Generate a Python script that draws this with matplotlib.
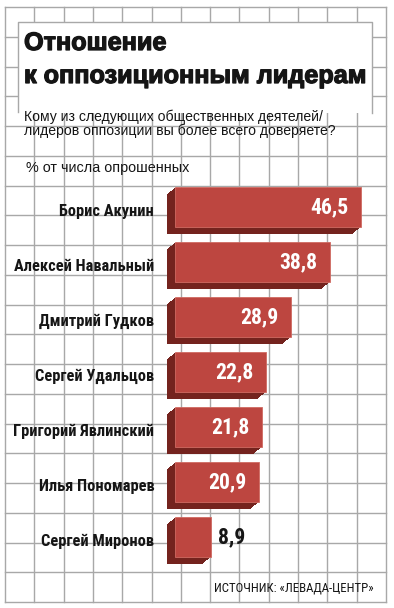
import matplotlib as mpl
mpl.use('Agg')
from matplotlib import pyplot as plt
from matplotlib import font_manager
from matplotlib.font_manager import FontProperties
from matplotlib.transforms import ScaledTranslation
from matplotlib.patches import Rectangle
import matplotlib.patheffects as pe
import numpy as np

names = ['Борис Акунин', 'Алексей Навальный', 'Дмитрий Гудков', 'Сергей Удальцов',
         'Григорий Явлинский', 'Илья Пономарев', 'Сергей Миронов']
values = [46.5, 38.8, 28.9, 22.8, 21.8, 20.9, 8.9]
value_labels = ['46,5', '38,8', '28,9', '22,8', '21,8', '20,9', '8,9']

title_lines = ['Отношение', 'к оппозиционным лидерам']
question_lines = ['Кому из следующих общественных деятелей/',
                  'лидеров оппозиции вы более всего доверяете?']
unit_note = '% от числа опрошенных'
source = 'ИСТОЧНИК: «ЛЕВАДА-ЦЕНТР»'

plt.rcParams['font.family'] = ['Liberation Sans', 'DejaVu Sans']


# look for a condensed face (the original uses narrow type); fall back to Liberation
def wnum(w):
    return w if isinstance(w, int) else font_manager.weight_dict.get(w, 400)


def find_narrow(bold):
    prefs = ['Noto Sans', 'Roboto', 'DejaVu Sans', 'Open Sans', 'Liberation Sans']
    best = None
    for f in font_manager.fontManager.ttflist:
        fn = f.fname.lower()
        if 'cjk' in fn or 'mono' in fn or 'serif' in fn or 'italic' in fn or f.style != 'normal':
            continue
        if not ('condensed' in fn or 'narrow' in fn or f.stretch in ('condensed', 'semi-condensed')):
            continue
        if 'extra' in fn:
            continue
        w = wnum(f.weight)
        if bold and w != 700:
            continue
        if not bold and w != 400:
            continue
        rank = next((i for i, p in enumerate(prefs) if f.name.startswith(p)), 99)
        if best is None or rank < best[0]:
            best = (rank, f.fname)
    return best[1] if best else None


nb, nr = find_narrow(True), find_narrow(False)
fp_bold = FontProperties(fname=nb) if nb else FontProperties(family='Liberation Sans', weight='bold')
fp_narrow = FontProperties(fname=nr) if nr else FontProperties(family='Liberation Sans')
fp_reg = FontProperties(family='Liberation Sans')

W, H = 394, 608
fig = plt.figure(figsize=(W / 100, H / 100), dpi=100)
fig.patch.set_facecolor('white')

# background grid, in pixel units
bg = fig.add_axes([0, 0, 1, 1])
bg.set_xlim(0, W)
bg.set_ylim(H, 0)
bg.axis('off')
grid_c = '#a8a8a8'
for gx in np.linspace(5, 386, 14):
    bg.plot([gx, gx], [7, 602], color=grid_c, lw=1)
for gy in np.linspace(7, 602, 21):
    bg.plot([5, 386], [gy, gy], color=grid_c, lw=1)
bg.add_patch(Rectangle((18, 22), 354, 91, facecolor='white', edgecolor='none', zorder=3))
bg.plot([18, 18, 372, 372], [112, 22, 22, 113], color=grid_c, lw=1, zorder=4)


def px(x, y):
    return x / W, 1 - y / H


ink = '#151515'
heavy = [pe.withStroke(linewidth=0.9, foreground=ink)]
t1 = fig.text(*px(24, 50), title_lines[0], fontsize=18, fontweight='bold', color=ink,
              va='baseline', ha='left', zorder=5, path_effects=heavy)
t2 = fig.text(*px(24, 83), title_lines[1], fontsize=18, fontweight='bold', color=ink,
              va='baseline', ha='left', zorder=5, path_effects=heavy)
q1 = fig.text(*px(24, 121.5), question_lines[0], fontproperties=fp_reg, color=ink,
              va='baseline', ha='left')
q2 = fig.text(*px(24, 134.5), question_lines[1], fontproperties=fp_reg, color=ink,
              va='baseline', ha='left')
un = fig.text(*px(26, 172), unit_note, fontproperties=fp_reg, color=ink,
              va='baseline', ha='left')
src = fig.text(*px(374, 591), source, fontproperties=fp_narrow, color=ink,
               va='baseline', ha='right')

# bars
ax = fig.add_axes([175 / W, 1 - 564.5 / H, 200 / W, 385 / H])
ax.patch.set_alpha(0)
ypos = np.arange(len(values))
front = '#bd4640'
side = '#74231e'
for k in range(1, 9):
    shift = ScaledTranslation(-k / 100, -k * 0.875 / 100, fig.dpi_scale_trans)
    ax.barh(ypos, values, height=0.727, color=side, transform=ax.transData + shift,
            clip_on=False)
ax.barh(ypos, values, height=0.727, color=front, edgecolor='#cf6a62', linewidth=0.6)
ax.set_xlim(0, 50)
ax.set_ylim(6.5, -0.5)
ax.set_yticks(ypos)
ax.set_yticklabels(names, fontproperties=fp_bold, color=ink)
ax.tick_params(axis='y', length=0, pad=15)
ax.set_xticks([])
for s in ax.spines.values():
    s.set_visible(False)
# labels sit a touch lower than the bar faces
lab_shift = ScaledTranslation(0, -3 / 100, fig.dpi_scale_trans)
for lbl in ax.get_yticklabels():
    lbl.set_transform(lbl.get_transform() + lab_shift)

vals_txt = []
for yv, v, lab in zip(ypos, values, value_labels):
    if v > 15:
        t = ax.annotate(lab, (v, yv), xytext=(-9, 0), textcoords='offset points',
                        ha='right', va='center', color='white', fontproperties=fp_bold)
    else:
        t = ax.annotate(lab, (v, yv), xytext=(5, 0), textcoords='offset points',
                        ha='left', va='center', color=ink, fontproperties=fp_bold)
    vals_txt.append(t)

# fit text sizes to the widths seen in the original
fig.canvas.draw()
r = fig.canvas.get_renderer()


def fit(items, ref, target):
    ref.set_fontsize(12)
    wd = ref.get_window_extent(r).width
    size = 12 * target / wd
    for it in items:
        it.set_fontsize(size)


fit([t1, t2], t2, 340)
fit([q1, q2], q2, 309)
fit([un], un, 164)
fit([src], src, 160)
fit(ax.get_yticklabels(), ax.get_yticklabels()[1], 140)
fit(vals_txt, vals_txt[0], 38)

fig.savefig('out.png', dpi=100)
